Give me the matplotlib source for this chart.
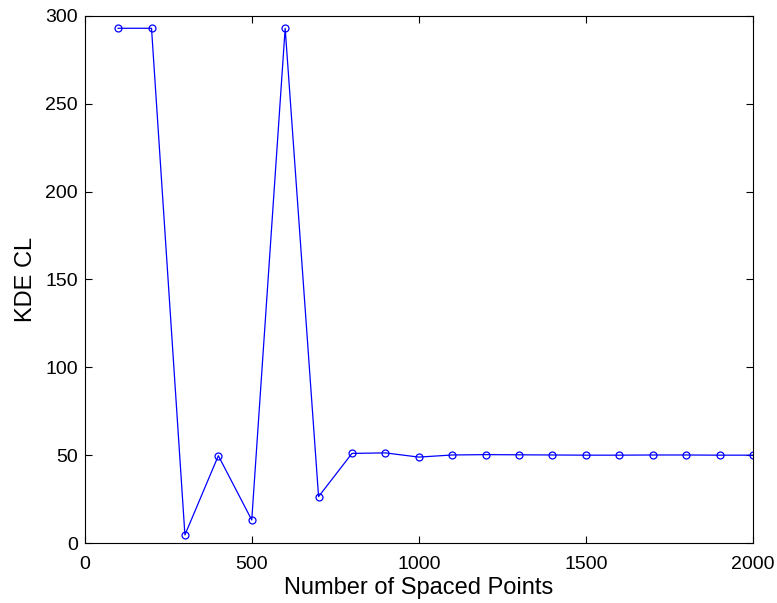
import matplotlib.pyplot as plt

n_points = [100, 200, 300, 400, 500, 600, 700, 800, 900, 1000,
            1100, 1200, 1300, 1400, 1500, 1600, 1700, 1800, 1900, 2000]
kde_cl = [293, 293, 4.6, 49.7, 13.1, 293, 26.4, 51.0, 51.3, 48.9,
          50.1, 50.3, 50.2, 50.1, 50.0, 50.0, 50.1, 50.1, 50.0, 50.0]

plt.rcParams['font.family'] = ['Liberation Sans', 'DejaVu Sans']

fig = plt.figure(figsize=(7.77, 6.03), dpi=100)
ax = fig.add_axes([0.109, 0.0995, 0.86, 0.874])
ax.plot(n_points, kde_cl, color='blue', linewidth=0.9, marker='o',
        markersize=5, markerfacecolor='none', markeredgecolor='blue', markeredgewidth=0.9)
ax.set_xlim(0, 2000)
ax.set_ylim(0, 300)
ax.set_xticks(range(0, 2001, 500))
ax.set_yticks(range(0, 301, 50))
ax.tick_params(direction='in', top=True, right=True, labelsize=14, length=5)
ax.tick_params(axis='x', pad=9)
ax.tick_params(axis='y', pad=5)
ax.set_xlabel('Number of Spaced Points', fontsize=17, labelpad=3)
ax.set_ylabel('KDE CL', fontsize=17, labelpad=6)

fig.savefig('out.png', dpi=100)
